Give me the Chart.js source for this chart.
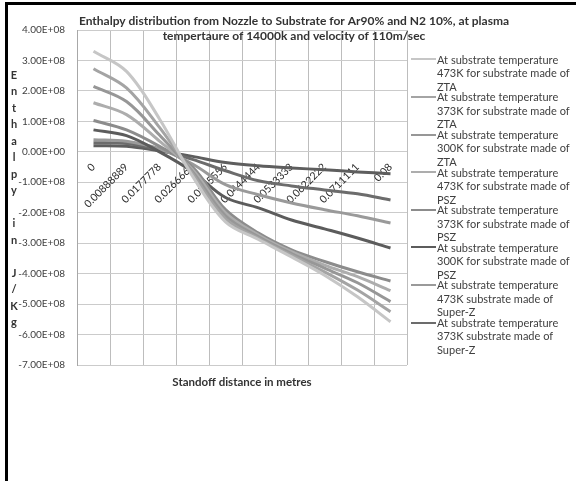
<!DOCTYPE html>
<html><head><meta charset="utf-8">
<script src="https://cdn.jsdelivr.net/npm/chart.js@4.4.1/dist/chart.umd.min.js"></script>
<style>
html,body{margin:0;padding:0;background:#fff;}
#wrap{position:relative;width:576px;height:481px;overflow:hidden;background:#fff;}
#c{position:absolute;left:0;top:0;}
#bt{position:absolute;left:5px;top:2px;width:571px;height:3px;background:#000;}
#bl{position:absolute;left:5px;top:2px;width:3px;height:479px;background:#000;}
#legend{position:absolute;left:411px;top:0;width:165px;font-family:Lato,sans-serif;font-size:11px;color:#404040;}
.item{position:absolute;left:0;width:165px;}
.sw{position:absolute;left:0;width:25px;height:2px;}
.tx{position:absolute;left:26px;width:138px;line-height:13.6px;white-space:normal;}
</style></head><body>
<div id="wrap"><canvas id="c" width="576" height="481"></canvas><div id="bt"></div><div id="bl"></div><div id="legend"></div></div>
<script>
const categories = ['0','0.00888889','0.0177778','0.0266667','0.0355556','0.0444444','0.0533333','0.0622222','0.0711111','0.08'];
const zta473 = [3.30e8, 2.64e8, 1.08e8, -0.80e8, -2.30e8, -2.88e8, -3.45e8, -4.05e8, -4.76e8, -5.58e8];
const zta373 = [2.73e8, 2.10e8, 0.80e8, -0.72e8, -2.20e8, -2.84e8, -3.40e8, -3.94e8, -4.54e8, -5.25e8];
const zta300 = [2.15e8, 1.65e8, 0.55e8, -0.65e8, -2.10e8, -2.79e8, -3.34e8, -3.82e8, -4.30e8, -4.92e8];
const psz473 = [1.61e8, 1.22e8, 0.35e8, -0.58e8, -2.00e8, -2.73e8, -3.28e8, -3.72e8, -4.10e8, -4.56e8];
const psz373 = [1.03e8, 0.72e8, 0.18e8, -0.50e8, -1.90e8, -2.67e8, -3.22e8, -3.60e8, -3.94e8, -4.24e8];
const psz300 = [0.72e8, 0.53e8, 0.00e8, -0.65e8, -1.50e8, -1.84e8, -2.24e8, -2.53e8, -2.83e8, -3.16e8];
const superz473 = [0.40e8, 0.35e8, 0.10e8, -0.40e8, -1.08e8, -1.41e8, -1.68e8, -1.90e8, -2.10e8, -2.34e8];
const superz373 = [0.30e8, 0.27e8, 0.07e8, -0.25e8, -0.62e8, -0.95e8, -1.12e8, -1.25e8, -1.38e8, -1.58e8];
const superz300 = [0.20e8, 0.18e8, 0.03e8, -0.15e8, -0.35e8, -0.46e8, -0.53e8, -0.59e8, -0.66e8, -0.72e8];
const seriesLabels = [
  'At substrate temperature 473K for substrate made of ZTA',
  'At substrate temperature 373K for substrate made of ZTA',
  'At substrate temperature 300K for substrate made of ZTA',
  'At substrate temperature 473K for substrate made of PSZ',
  'At substrate temperature 373K for substrate made of PSZ',
  'At substrate temperature 300K for substrate made of PSZ',
  'At substrate temperature 473K substrate made of Super-Z',
  'At substrate temperature 373K substrate made of Super-Z',
  'At substrate temperature 300K substrate made of Super-Z'
];
const titleLines = ['Enthalpy distribution from Nozzle to Substrate for Ar90% and N2 10%, at plasma', 'tempertaure of 14000k and velocity of 110m/sec'];
const xTitle = 'Standoff distance in metres';
const yTitle = 'Enthalpy in J/Kg';
const yMin = -7e8, yMax = 4e8, yStep = 1e8;

const seriesValues = [zta473, zta373, zta300, psz473, psz373, psz300, superz473, superz373, superz300];
const colors = ['#c6c6c6','#a4a4a4','#979797','#adadad','#8c8c8c','#5c5c5c','#9a9a9a','#6c6c6c','#5e5e5e'];

function fmtE(v){
  let s = Number(v).toExponential(2).toUpperCase();
  return s.replace(/E([+-])(\d)$/, 'E$10$2');
}

const textPlugin = {
  id:'texts',
  afterDraw(chart){
    const ctx = chart.ctx; ctx.save();
    ctx.fillStyle = '#333'; ctx.textAlign = 'center'; ctx.textBaseline = 'middle';
    ctx.font = 'bold 12px Lato';
    titleLines.forEach((t,i)=>ctx.fillText(t, 294, 21 + 15*i));
    ctx.font = 'bold 11.5px Lato';
    ctx.fillText(xTitle, (chart.chartArea.left + chart.chartArea.right)/2, 382);
    ctx.font = 'bold 11px Lato';
    yTitle.split('').forEach((ch,i)=>ctx.fillText(ch, 14, 75 + 16.5*i));
    ctx.restore();
  }
};

const chart = new Chart(document.getElementById('c'), {
  type:'line',
  data:{
    labels: categories,
    datasets: seriesValues.map((d,i)=>({label: seriesLabels[i], data: d, borderColor: colors[i], backgroundColor: colors[i], borderWidth:3, pointRadius:0, tension:0.35, fill:false}))
  },
  options:{
    responsive:false, animation:false, devicePixelRatio:1,
    layout:{padding:{left:0, top:30, right:169, bottom:116}},
    plugins:{legend:{display:false}, title:{display:false}, tooltip:{enabled:false}},
    scales:{
      x:{
        position:{y:0}, offset:true,
        grid:{offset:true, color:'#bdbdbd', lineWidth:1, drawTicks:false},
        border:{display:false},
        ticks:{minRotation:45, maxRotation:45, padding:9, color:'#2a2a2a', font:{family:'Lato', size:10.5}, autoSkip:false},
        afterFit(s){ s.height = 0; }
      },
      y:{
        min:yMin, max:yMax,
        grid:{color:'#cbcbcb', lineWidth:1, drawTicks:false},
        border:{display:true, color:'#a8a8a8'},
        ticks:{stepSize:yStep, padding:12, color:'#404040', font:{family:'Lato', size:10}, callback:(v)=>fmtE(v)},
        afterFit(s){ s.width = 77; }
      }
    }
  },
  plugins:[textPlugin]
});

const leg = document.getElementById('legend');
chart.data.datasets.slice(0,8).forEach((ds,i)=>{
  const it = document.createElement('div'); it.className='item';
  const cy = 59.5 + 37.6*i;
  it.style.top = (cy - 6.8) + 'px';
  const sw = document.createElement('div'); sw.className='sw'; sw.style.background = ds.borderColor; sw.style.top = '5.8px';
  const tx = document.createElement('div'); tx.className='tx'; tx.textContent = ds.label;
  it.appendChild(sw); it.appendChild(tx); leg.appendChild(it);
});
</script>
</body></html>
